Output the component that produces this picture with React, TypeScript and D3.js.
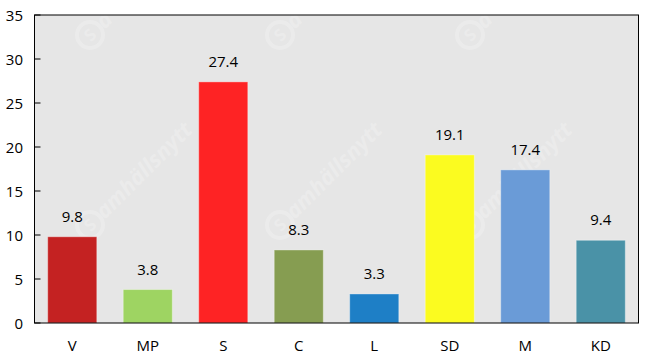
import React from "react";
import * as d3 from "d3";

const categories = ["V", "MP", "S", "C", "L", "SD", "M", "KD"];
const values = [9.8, 3.8, 27.4, 8.3, 3.3, 19.1, 17.4, 9.4];
const colors = ["#c42222", "#9ed462", "#fe2324", "#869d51", "#1e7fc6", "#fbfb20", "#6a9bd7", "#4a92a7"];
const yTicks = [0, 5, 10, 15, 20, 25, 30, 35];
const watermarks: [number, number, string][] = [
  [90, 35, "a"], [280, 35, "a"], [470, 35, "a"],
  [90, 225, "amhällsnytt"], [280, 225, "amhällsnytt"], [470, 225, "amhällsnytt"],
];

const W = 646, H = 358;
const M = { left: 34.5, right: 638.5, top: 15, bottom: 323 };
const FONT = "'Open Sans', 'Noto Sans', sans-serif";

export default function App() {
  const x = d3.scaleBand<string>().domain(categories).range([M.left, M.right]).paddingInner(0.35).paddingOuter(0.175);
  const y = d3.scaleLinear().domain([0, 35]).range([M.bottom, M.top]);
  return (
    <svg width={W} height={H} style={{ position: "absolute", left: 0, top: 0 }}>
      <defs>
        <clipPath id="plot">
          <rect x={M.left} y={M.top} width={M.right - M.left} height={M.bottom - M.top} />
        </clipPath>
      </defs>
      <rect x={0} y={0} width={W} height={H} fill="#ffffff" />
      <rect x={M.left} y={M.top} width={M.right - M.left} height={M.bottom - M.top} fill="#e6e6e6" />
      <g clipPath="url(#plot)">
        {watermarks.map(([wx, wy, s], i) => (
          <g key={i} transform={`translate(${wx},${wy}) rotate(-45)`} opacity={0.4}>
            <circle cx={0} cy={0} r={13} fill="none" stroke="#f4f4f4" strokeWidth={4} />
            <text x={0} y={6} textAnchor="middle" fontFamily={FONT} fontWeight="bold" fontSize={17} fill="#f4f4f4">S</text>
            <text x={14} y={7} fontFamily={FONT} fontWeight="bold" fontStyle="italic" fontSize={22} fill="#f4f4f4">{s}</text>
          </g>
        ))}
      </g>
      {categories.map((c, i) => (
        <rect key={c} x={x(c)} y={y(values[i])} width={x.bandwidth()} height={y(0) - y(values[i])}
          fill={colors[i]} stroke="#ffffff" strokeOpacity={0.35} strokeWidth={1} />
      ))}
      {categories.map((c, i) => (
        <text key={c} x={(x(c) as number) + x.bandwidth() / 2} y={y(values[i]) - 21} textAnchor="middle"
          dominantBaseline="central" fontFamily={FONT} fontSize={15} fill="#000">{values[i].toFixed(1)}</text>
      ))}
      <rect x={M.left} y={M.top} width={M.right - M.left} height={M.bottom - M.top} fill="none" stroke="#000" strokeWidth={1} />
      {yTicks.map((t) => (
        <g key={t}>
          <line x1={M.left} x2={M.left + 6} y1={y(t)} y2={y(t)} stroke="#000" strokeWidth={1} />
          <text x={23} y={y(t)} textAnchor="end" dominantBaseline="central" fontFamily={FONT} fontSize={15} fill="#000">{t}</text>
        </g>
      ))}
      {categories.map((c) => (
        <text key={c} x={(x(c) as number) + x.bandwidth() / 2} y={345} textAnchor="middle" dominantBaseline="central"
          fontFamily={FONT} fontSize={15} fill="#000">{c}</text>
      ))}
    </svg>
  );
}
